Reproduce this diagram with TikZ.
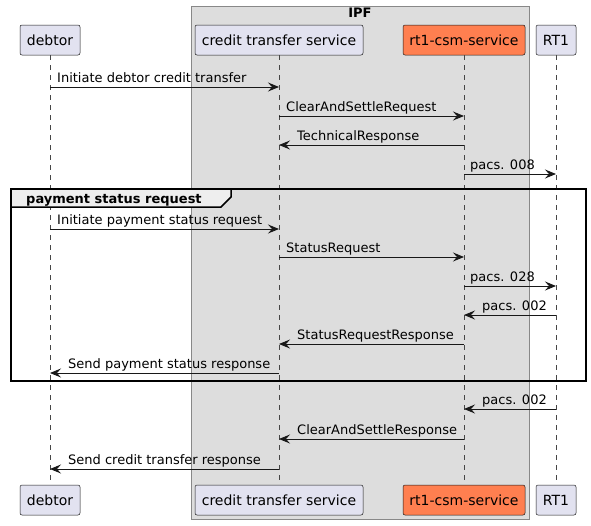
\documentclass[tikz,border=0pt]{standalone}
\usepackage{fontspec}
\setmainfont{DejaVu Sans}
\usetikzlibrary{arrows.meta}
\definecolor{partfill}{HTML}{E2E2F0}
\definecolor{partline}{HTML}{181818}
\definecolor{coral}{HTML}{FF7F50}
\definecolor{boxfill}{HTML}{DDDDDD}
\definecolor{boxline}{HTML}{888888}
\definecolor{headfill}{HTML}{EEEEEE}
\newcommand{\msgfont}{\fontsize{13}{15}\selectfont}

\begin{document}
\begin{tikzpicture}[x=1pt,y=-1pt,
   part/.style={draw=partline,fill=partfill,line width=0.5pt,rounded corners=2pt,
                minimum height=30pt,inner sep=0pt,font=\fontsize{14}{16}\selectfont},
   life/.style={draw=partline!80,line width=0.5pt,dash pattern=on 5pt off 5pt},
   msg/.style={draw=partline,line width=1pt,-{Stealth[length=11pt,width=9pt,inset=4pt]}},
   lbl/.style={anchor=base west,inner sep=0pt,font=\msgfont}]
   \useasboundingbox (0,0) rectangle (591,525);
   % IPF box
   \draw[boxline,fill=boxfill,line width=0.8pt] (191,6) rectangle (529,519);
   \node[anchor=base,inner sep=0pt,font=\msgfont\bfseries] at (360,17) {IPF};
   % participants
   \node[part,minimum width=60pt]  (debtor)  at ( 50, 40) {debtor};
   \node[part,minimum width=168pt] (cts)     at (279, 40) {credit transfer service};
   \node[part,minimum width=122pt,fill=coral] (csm) at (464, 40) {rt1-csm-service};
   \node[part,minimum width=40pt]  (rt)      at (556, 40) {RT1};
   \node[part,minimum width=60pt]  (debtorB) at ( 50,500) {debtor};
   \node[part,minimum width=168pt] (ctsB)    at (279,500) {credit transfer service};
   \node[part,minimum width=122pt,fill=coral] (csmB) at (464,500) {rt1-csm-service};
   \node[part,minimum width=40pt]  (rtB)     at (556,500) {RT1};
   % lifelines
   \draw[life] (debtor) -- (debtorB);
   \draw[life] (cts) -- (ctsB);
   \draw[life] (csm) -- (csmB);
   \draw[life] (rt) -- (rtB);
   % group frame
   \draw[black,line width=1.5pt] (11,189) rectangle (586,381);
   \draw[black,fill=headfill,line width=1.5pt]
      (11,189) -- (231,189) -- (231,197) -- (221,207) -- (11,207) -- cycle;
   \node[lbl,font=\msgfont\bfseries] at (26,203) {payment status request};
   % messages
   \draw[msg] (debtor |- 0, 87) -- (cts |- 0, 87);
   \draw[msg] (cts |- 0,116) -- (csm |- 0,116);
   \draw[msg] (csm |- 0,145) -- (cts |- 0,145);
   \draw[msg] (csm |- 0,174) -- (rt |- 0,174);
   \draw[msg] (debtor |- 0,229) -- (cts |- 0,229);
   \draw[msg] (cts |- 0,257) -- (csm |- 0,257);
   \draw[msg] (csm |- 0,286) -- (rt |- 0,286);
   \draw[msg] (rt |- 0,315) -- (csm |- 0,315);
   \draw[msg] (csm |- 0,344) -- (cts |- 0,344);
   \draw[msg] (cts |- 0,373) -- (debtor |- 0,373);
   \draw[msg] (rt |- 0,409) -- (csm |- 0,409);
   \draw[msg] (csm |- 0,439) -- (cts |- 0,439);
   \draw[msg] (cts |- 0,469) -- (debtor |- 0,469);
   % message labels
   \node[lbl] at ( 57, 82) {Initiate debtor credit transfer};
   \node[lbl] at (286,111) {ClearAndSettleRequest};
   \node[lbl] at (297,140) {TechnicalResponse};
   \node[lbl] at (470,169) {pacs. 008};
   \node[lbl] at ( 57,224) {Initiate payment status request};
   \node[lbl] at (286,252) {StatusRequest};
   \node[lbl] at (470,281) {pacs. 028};
   \node[lbl] at (482,310) {pacs. 002};
   \node[lbl] at (297,339) {StatusRequestResponse};
   \node[lbl] at ( 68,368) {Send payment status response};
   \node[lbl] at (482,404) {pacs. 002};
   \node[lbl] at (297,434) {ClearAndSettleResponse};
   \node[lbl] at ( 68,464) {Send credit transfer response};
\end{tikzpicture}
\end{document}
